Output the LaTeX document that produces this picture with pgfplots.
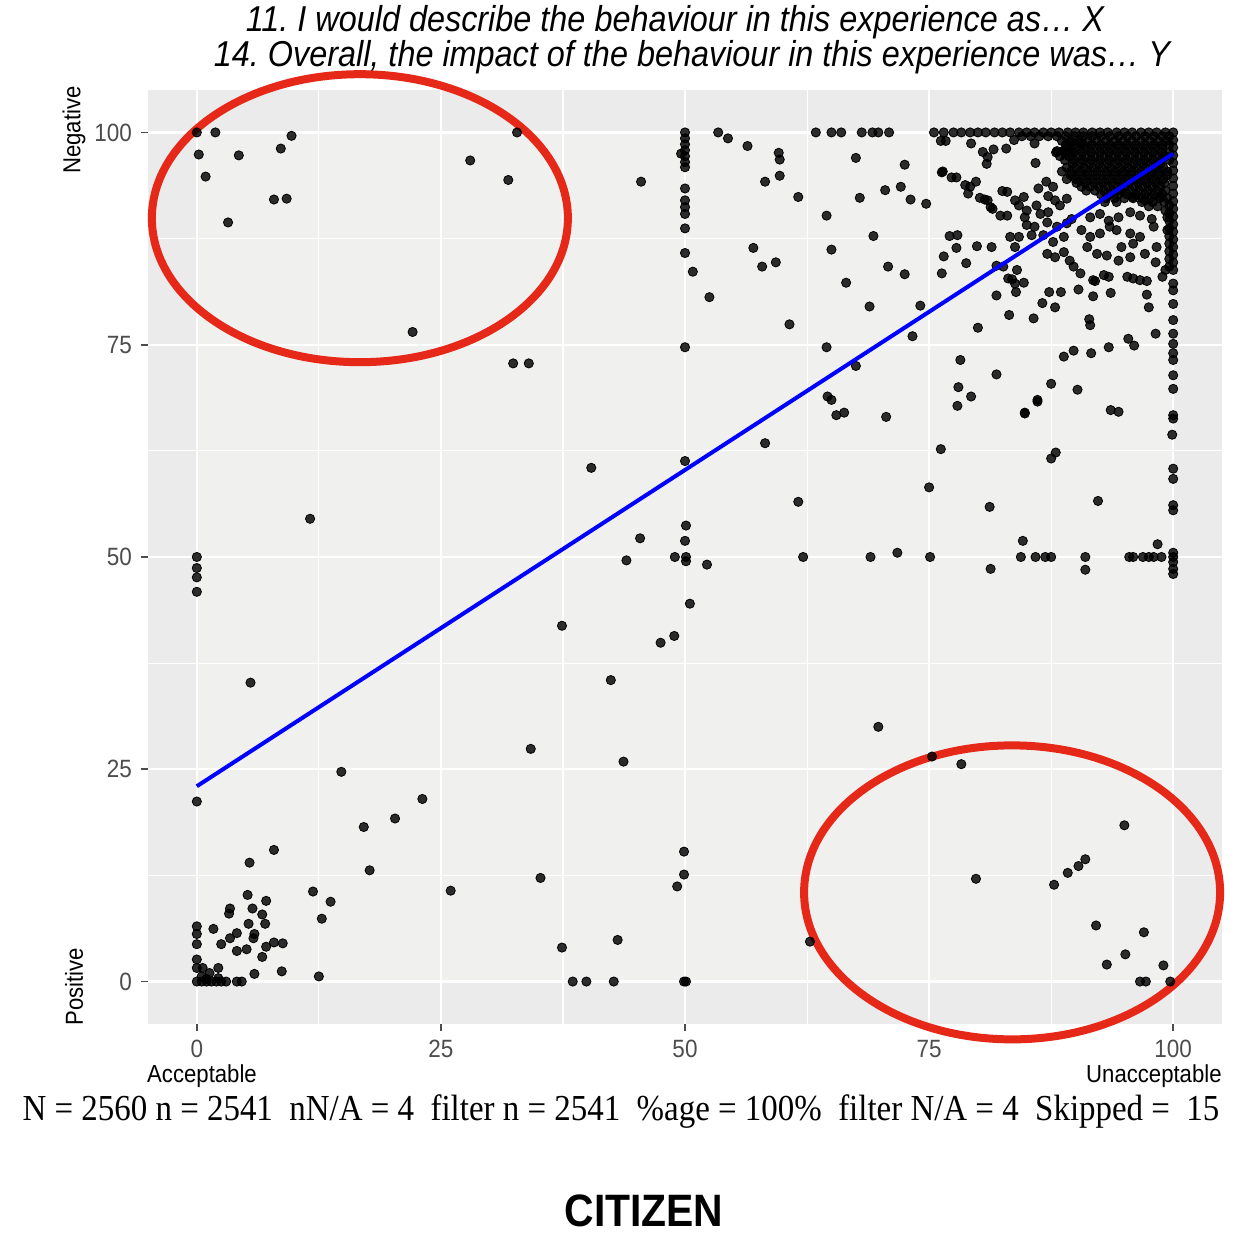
\documentclass[border=0pt]{standalone}
\usepackage{fontspec}
\setmainfont{Liberation Sans}[FakeStretch=0.9]
\newfontfamily\timesfont{Liberation Serif}[FakeStretch=0.9]
\usepackage{pgfplots}
\pgfplotsset{compat=1.18}
\definecolor{outerbg}{RGB}{235,235,235}
\definecolor{innerbg}{RGB}{240,241,239}
\definecolor{ellred}{RGB}{230,40,25}
\definecolor{ticklab}{RGB}{77,77,77}
\pgfplotstableread{
x y
0 100
1.9 100
0.2 97.4
0.9 94.8
4.3 97.3
3.2 89.4
8.6 98.1
9.7 99.6
7.9 92.1
9.2 92.2
28 96.7
31.9 94.4
32.8 100
22.1 76.5
32.4 72.8
34 72.8
0 50
0 48.7
0 47.6
0 45.9
0 21.2
5.5 35.2
11.6 54.5
14.8 24.7
17.1 18.2
17.7 13.1
20.3 19.2
23.1 21.5
26 10.7
34.2 27.4
35.2 12.2
11.9 10.6
13.7 9.4
12.8 7.4
12.5 0.6
7.9 15.5
5.4 14
37.4 4
38.5 0
39.9 0
5.2 10.2
7.1 9.5
5.7 8.6
3.4 8.6
3.3 8
6.7 7.9
5.3 6.8
7 6.8
1.7 6.2
0 6.5
0 5.6
4.1 5.7
5.9 5.6
3.4 5.1
5.8 5.1
2.5 4.4
0 4.4
7.9 4.6
8.8 4.5
7.1 4.1
5.1 3.8
4.1 3.6
6.7 2.9
0 2.6
0 1.6
0.6 1.6
2.2 1.6
1.3 1
5.9 0.9
8.7 1.2
2.2 0.4
0.5 0.6
1 0.3
0 0
0.5 0
1 0
1.5 0
2 0
2.5 0
3 0
4.1 0
4.6 0
37.4 41.9
40.4 60.5
42.4 35.5
43.7 25.9
43.1 4.9
42.7 0
44 49.6
45.4 52.2
47.5 39.9
48.9 40.7
49.2 11.2
49.9 12.6
49.9 15.3
49.9 0
50.1 0
50.5 44.5
50.1 53.7
50 51.9
48.96 50
50.1 50
50.1 49.5
52.25 49.1
50 61.3
50 74.7
50 100
50 99.3
50 98.6
50 97.9
50 97.2
50 96.5
50 95.9
49.6 97.5
50 93.4
50 92
50 91.2
50 90.4
50 88.7
50 85.8
50.8 83.6
52.5 80.6
45.5 94.2
53.4 100
54.4 99.3
56.4 98.4
59.6 97.6
59.7 96.8
59.7 94.9
58.2 94.2
61.6 92.4
64.5 90.2
67.5 97
67.9 92.3
70.5 93.2
72.1 93.6
73.1 92.1
74.7 91.6
72.5 96.2
69.3 87.8
65 86.2
57 86.4
57.9 84.2
59.3 84.7
66.5 82.3
60.7 77.4
68.9 79.5
70.8 84.2
72.5 83.3
74.1 79.6
73.3 76
64.5 74.7
67.5 72.5
64.6 68.9
65 68.5
65.5 66.7
66.3 67
70.6 66.5
63.4 100
65 100
66 100
68.1 100
69.2 100
69.8 100
70.9 100
78.2 73.2
78 70
79.3 68.9
77.9 67.8
81.9 71.5
80 77
76.3 95.3
77.8 94.7
76.7 99
79.3 98.7
80.5 97.7
81.6 98
82.9 98.1
83.7 99.1
85.8 98.7
80.9 96.3
85.9 96.4
88.7 97.8
89.5 97.6
77.1 87.8
77.9 87.9
77.8 86.4
76.5 85.4
76.3 83.4
78.8 84.6
79.9 86.6
81.9 84.3
84 83.8
83.5 82.7
84.7 82.3
83.9 81.2
81.9 80.8
83.2 78.5
85.7 78.1
86.6 79.9
87.3 81.2
88.5 81.2
87.9 79.4
90.3 81.5
91.8 80.7
92 82.5
93.4 83
93.6 81.1
95.9 82.8
97.3 82.5
97.3 80.9
97.5 79.4
98.9 83
91.4 78
91.5 77.3
88.8 73.6
89.8 74.3
91.6 74
93.4 74.7
95.4 75.7
96 74.9
98.2 76.3
90.2 69.7
86.1 68.5
87.5 70.4
84.8 67
93.6 67.3
94.4 67.1
84.2 87.7
83 90.2
83 93
81.5 91
80.7 92.1
79.2 93.6
79.8 94.2
79 92.8
85 90.8
84.8 90
85.8 88.9
76.2 99
81 97.1
88.1 97.8
88.9 97.6
89.4 98.7
90.5 98.7
76.4 95.4
77.3 94.7
78.7 93.8
80.2 92.3
81 92
81.3 91.2
82.5 93.1
83.8 92
84.2 91.4
84.7 92.4
82.3 90.2
86.2 93.4
87 94.2
87.7 93.6
87.2 92.5
86 91.4
86.4 90.4
87.2 90.6
85 89.1
85.5 87.9
87.9 92
88.4 91.4
89.1 92.2
87.1 89.4
88.1 88.9
89.1 89.3
89.6 89.8
86.7 87.9
87.7 87.1
88.8 87.7
87.1 85.7
87.9 85.3
88.8 85.9
89.4 84.9
89.8 84.2
90.5 83.4
90.6 88.5
91.5 87.7
92.5 88.1
93.5 88.9
91.5 90
92.5 90.4
93.4 89.6
91.2 86.5
92.2 85.7
93.2 85.5
94.4 90
95.6 90.6
96.6 90.2
97.8 89.8
94.2 88.5
95.6 88.1
96.6 87.7
98 88.9
94.7 86.5
95.9 86.9
97.1 85.7
98.3 86.5
94.4 84.9
95.6 85.3
98.2 84.7
99.2 83.8
91.8 82.6
92.9 83.2
95.3 83
96.6 82.6
99.4 90
99.4 88.5
98.7 92.4
94.6 93.2
95.9 92.4
97.1 92
83.3 87.7
83.8 86.5
81.4 86.5
82.6 84.2
83.1 82.8
83.8 82.2
75.5 100
76.5 100
77.5 100
78.3 100
79.2 100
80 100
80.8 100
81.7 100
82.5 100
83.3 100
84.2 100
85 100
85.8 100
86.7 100
87.5 100
88.3 100
89.2 100
90 100
90.8 100
91.7 100
92.5 100
93.3 100
94.2 100
95 100
95.8 100
96.7 100
97.5 100
98.3 100
99.2 100
100 100
84.5 99.55
85.4 99.55
86.3 99.55
87.2 99.55
88.1 99.55
89 99.55
89.9 99.55
90.8 99.55
91.7 99.55
92.6 99.55
93.5 99.55
94.4 99.55
95.3 99.55
96.2 99.55
97.1 99.55
98 99.55
98.9 99.55
99.6 99.55
88.6 99
89.5 99
90.4 99
91.3 99
92.2 99
93.1 99
94 99
94.9 99
95.8 99
96.7 99
97.6 99
98.5 99
99.3 99
89 98.55
89.9 98.55
90.8 98.55
91.7 98.55
92.6 98.55
93.5 98.55
94.4 98.55
95.3 98.55
96.2 98.55
97.1 98.55
98 98.55
98.9 98.55
99.6 98.55
89 98.1
89.9 98.1
90.8 98.1
91.7 98.1
92.6 98.1
93.5 98.1
94.4 98.1
95.3 98.1
96.2 98.1
97.1 98.1
98 98.1
98.9 98.1
88 97.65
88.9 97.65
89.8 97.65
90.7 97.65
91.6 97.65
92.5 97.65
93.4 97.65
94.3 97.65
95.2 97.65
96.1 97.65
97 97.65
97.9 97.65
98.8 97.65
99.6 97.65
88.4 97.2
89.3 97.2
90.2 97.2
91.1 97.2
92 97.2
92.9 97.2
93.8 97.2
94.7 97.2
95.6 97.2
96.5 97.2
97.4 97.2
98.3 97.2
99.2 97.2
88.9 96.75
89.8 96.75
90.7 96.75
91.6 96.75
92.5 96.75
93.4 96.75
94.3 96.75
95.2 96.75
96.1 96.75
97 96.75
97.9 96.75
98.8 96.75
99.6 96.75
89.7 96.3
90.6 96.3
91.5 96.3
92.4 96.3
93.3 96.3
94.2 96.3
95.1 96.3
96 96.3
96.9 96.3
97.8 96.3
98.7 96.3
89.1 95.85
90 95.85
90.9 95.85
91.8 95.85
92.7 95.85
93.6 95.85
94.5 95.85
95.4 95.85
96.3 95.85
97.2 95.85
98.1 95.85
99 95.85
88.6 95.4
89.5 95.4
90.4 95.4
91.3 95.4
92.2 95.4
93.1 95.4
94 95.4
94.9 95.4
95.8 95.4
96.7 95.4
97.6 95.4
98.5 95.4
99.4 95.4
89.5 94.95
90.4 94.95
91.3 94.95
92.2 94.95
93.1 94.95
94 94.95
94.9 94.95
95.8 94.95
96.7 94.95
97.6 94.95
98.5 94.95
99.4 94.95
89.1 94.5
90 94.5
90.9 94.5
91.8 94.5
92.7 94.5
93.6 94.5
94.5 94.5
95.4 94.5
96.3 94.5
97.2 94.5
98.1 94.5
99 94.5
90.1 94.05
91 94.05
91.9 94.05
92.8 94.05
93.7 94.05
94.6 94.05
95.5 94.05
96.4 94.05
97.3 94.05
98.2 94.05
99.1 94.05
90.6 93.6
91.5 93.6
92.4 93.6
93.3 93.6
94.2 93.6
95.1 93.6
96 93.6
96.9 93.6
97.8 93.6
98.7 93.6
91.1 93.15
92 93.15
92.9 93.15
93.8 93.15
94.7 93.15
95.6 93.15
96.5 93.15
97.4 93.15
98.3 93.15
99.2 93.15
92.6 92.7
93.5 92.7
94.4 92.7
95.3 92.7
96.2 92.7
97.1 92.7
98 92.7
98.9 92.7
93.1 92.25
94 92.25
95 92.25
95.9 92.25
96.8 92.25
97.7 92.25
98.6 92.25
99.4 92.25
93 91.8
94.2 91.8
96.8 91.8
97.9 91.8
99.1 91.8
97.5 91.3
98.4 91.3
99.2 90.8
99.6 91.4
99.6 90.5
99.6 89.6
99.6 88.7
99.6 87.8
99.6 86.9
99.6 86
99.6 85.1
99.6 84.2
100 99.1
100 98.2
100 97.3
100 96.4
100 95.5
100 94.6
100 93.7
100 92.8
100 91.9
100 91
100 90.1
100 89.2
100 88.3
100 87.4
100 86.5
100 85.6
100 84.7
100 83.8
100 82.2
100 81.4
100 79.8
100 77.9
100 76.3
100 75.1
100 74
100 73.2
100 71.4
100 69.8
100 66.7
100 66.3
99.9 64.4
100 60.4
100 59.2
100 56.1
100 55.5
100 50.5
100 50
100 49.4
100 48.6
100 48
58.2 63.4
76.2 62.7
87.5 61.6
87.97 62.3
84.8 66.9
86.1 68.3
75 58.2
61.6 56.5
81.2 55.9
92.3 56.6
62.1 50
69 50
71.75 50.5
75.1 50
81.3 48.6
84.6 51.9
84.4 50
85.9 50
86.9 50
87.5 50
91 50
91 48.5
95.5 50
95.9 50
96.9 50
97.5 50
98 50
98.8 50
98.4 51.5
69.8 30
75.3 26.5
78.3 25.6
79.8 12.1
87.8 11.4
89.2 12.8
90.3 13.6
91 14.4
95 18.4
92.1 6.6
93.2 2
95.1 3.2
97 5.8
96.6 0
97.2 0
99 1.9
99.7 0
62.8 4.7
}\pts
\begin{document}
\frenchspacing
\begin{tikzpicture}
\begin{axis}[
  set layers,
  at={(0,0)}, anchor=south west,
  scale only axis, width=537pt, height=467pt,
  xmin=-5, xmax=105, ymin=-5, ymax=105,
  clip=false,
  axis background/.style={fill=outerbg},
  axis line style={draw=none},
  xtick={0,25,50,75,100}, ytick={0,25,50,75,100},
  minor tick num=1,
  grid=both,
  major grid style={white, line width=1.1pt},
  minor grid style={white, line width=0.55pt},
  tick pos=left, tick align=outside,
  major tick length=3.5pt, minor tick length=0pt,
  tick style={black!70, line width=0.9pt},
  /pgf/number format/assume math mode=true,
  ticklabel style={font=\fontsize{12.5}{14}\selectfont, text=ticklab},
  xticklabel style={yshift=-1pt},
  yticklabel style={xshift=-1pt},
]
\begin{pgfonlayer}{axis background}
\fill[innerbg] (axis cs:0,0) rectangle (axis cs:100,100);
\end{pgfonlayer}
\addplot[only marks, mark=*, mark size=2.3pt,
  mark options={draw=none, fill=black, fill opacity=0.82}] table[x=x,y=y] {\pts};
\addplot[blue, line width=2pt, on layer=axis foreground] coordinates {(0,23) (100,97.5)};
\draw[ellred, line width=4pt] (axis cs:16.7,89.9) ellipse [x radius=104pt, y radius=72pt];
\draw[ellred, line width=4pt] (axis cs:83.5,10.5) ellipse [x radius=104pt, y radius=73.5pt];
\end{axis}
% titles
\node[font=\fontsize{18}{21}\selectfont\itshape] at (263.5pt,501pt) {11. I would describe the behaviour in this experience as\dots\ X};
\node[font=\fontsize{18}{21}\selectfont\itshape] at (272pt,483.5pt) {14. Overall, the impact of the behaviour in this experience was\dots\ Y};
% axis labels
\node[font=\fontsize{12.3}{14}\selectfont] at (27pt,-26pt) {Acceptable};
\node[font=\fontsize{12.3}{14}\selectfont, anchor=east, inner xsep=0pt] at (537pt,-26pt) {Unacceptable};
\node[font=\fontsize{12.3}{14}\selectfont, rotate=90] at (-37pt,447pt) {Negative};
\node[font=\fontsize{12.3}{14}\selectfont, rotate=90] at (-37pt,18.5pt) {Positive};
% footer
\node[font=\timesfont\fontsize{18.3}{21}\selectfont] at (236.5pt,-44pt) {N = 2560 n = 2541\ \ nN/A = 4\ \ filter n = 2541\ \ \%age = 100\%\ \ filter N/A = 4\ \ Skipped =\ \ 15};
\node[font=\fontsize{22.7}{26}\selectfont\bfseries, anchor=base] at (248pt,-101.5pt) {CITIZEN};
\pgfresetboundingbox
\useasboundingbox (-74pt,-105pt) rectangle (551.5pt,512pt);
\end{tikzpicture}
\end{document}
